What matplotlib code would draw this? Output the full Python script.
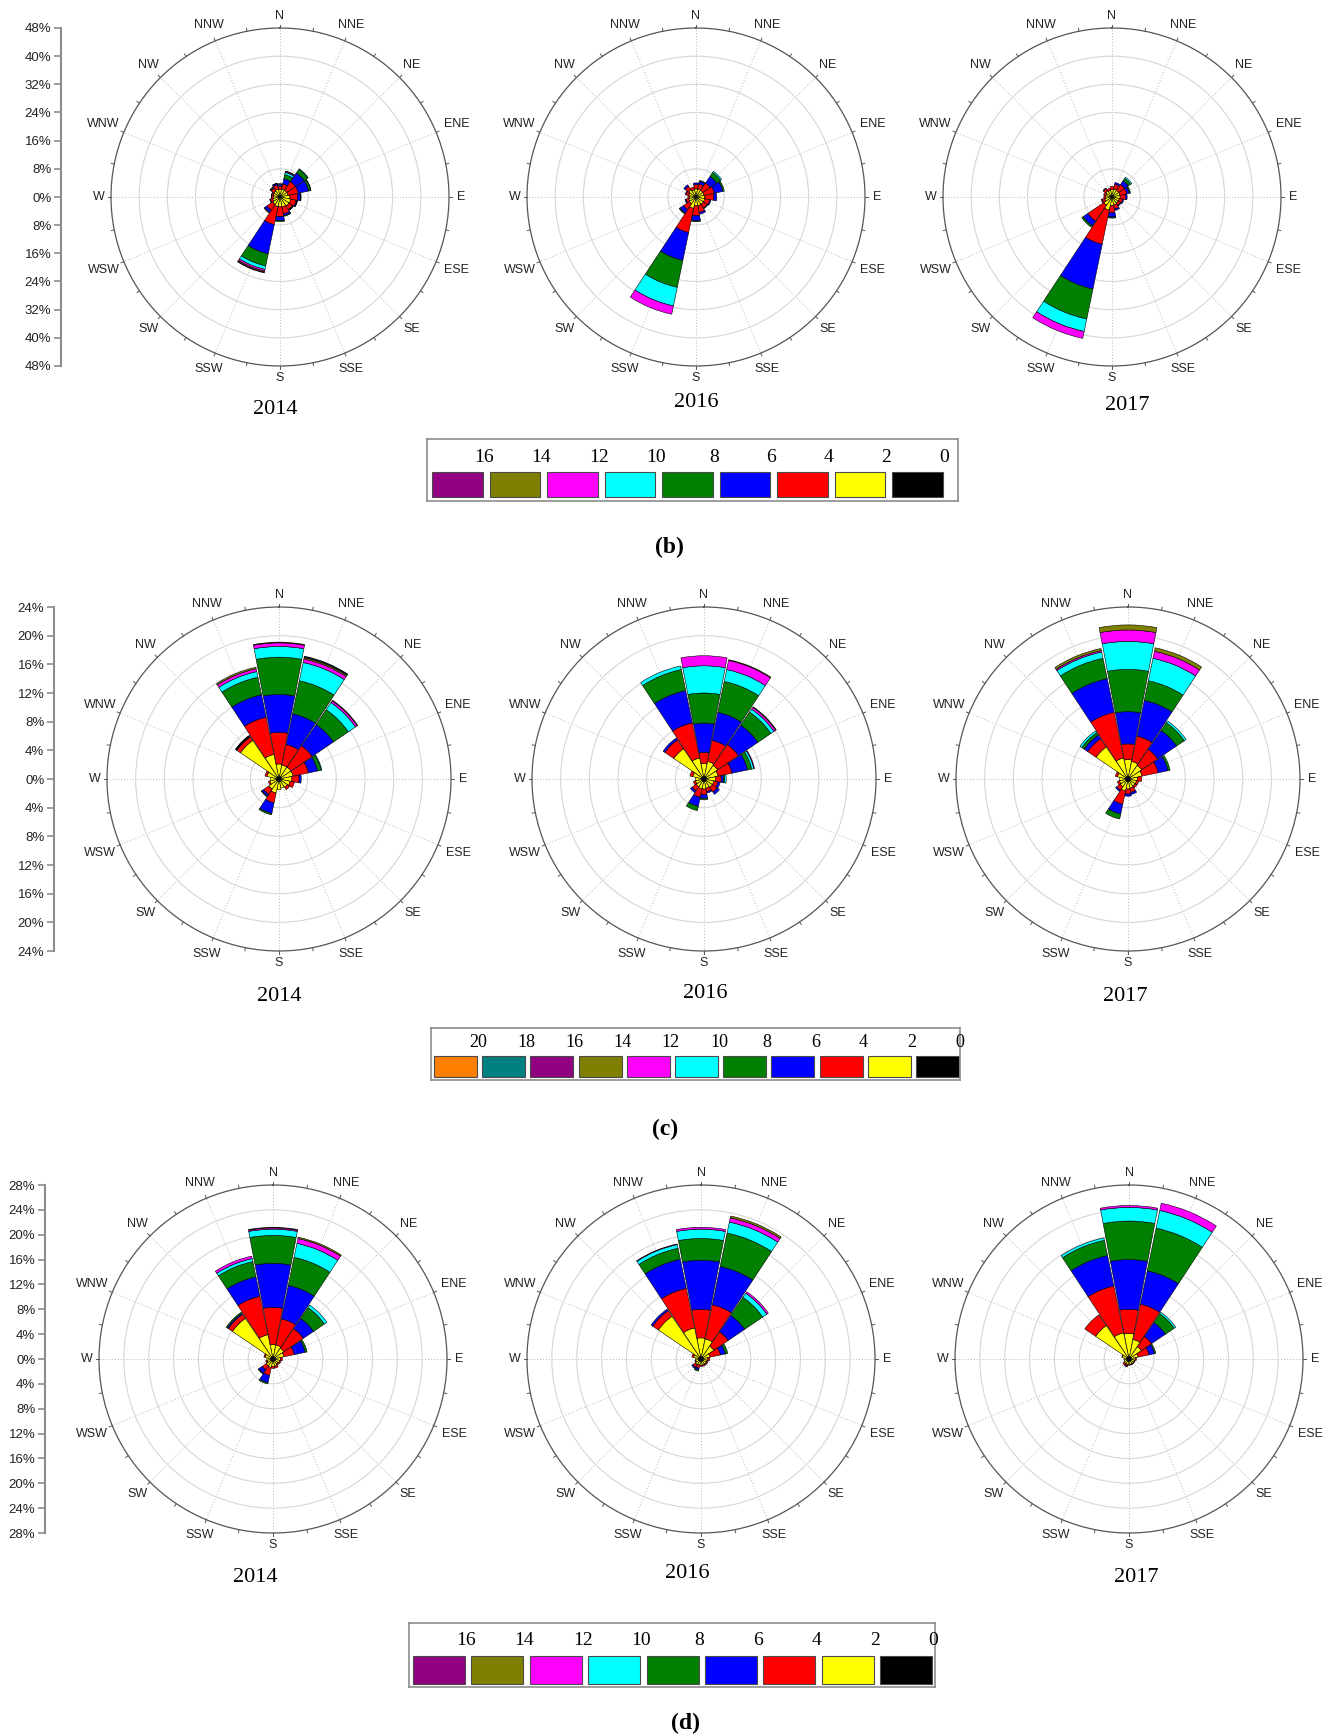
import numpy as np
import matplotlib
matplotlib.use('Agg')
import matplotlib.pyplot as plt
from matplotlib.patches import Rectangle

W, H = 1330, 1735

directions = ['N', 'NNE', 'NE', 'ENE', 'E', 'ESE', 'SE', 'SSE',
              'S', 'SSW', 'SW', 'WSW', 'W', 'WNW', 'NW', 'NNW']

# speed bins from the centre outwards
bin_colors = ['#000000', '#ffff00', '#ff0000', '#0000ff', '#008000', '#00ffff',
              '#ff00ff', '#808000', '#900080', '#008080', '#ff8000']

labels_bd = ['16', '14', '12', '10', '8', '6', '4', '2', '0']
labels_c = ['20', '18', '16', '14', '12', '10', '8', '6', '4', '2', '0']

# frequency (%) per direction, per speed bin (centre outwards)
b2014 = [[0.3, 1.8, 1.0, 0.5, 0.2], [0.3, 2.0, 1.5, 1.5, 1.2, 0.6, 0.3, 0.1],
         [0.3, 2.0, 3.0, 3.0, 1.2, 0.2], [0.3, 2.0, 3.0, 3.0, 0.6, 0.1],
         [0.3, 2.5, 2.2, 0.8, 0.2], [0.3, 2.8, 1.6, 0.3, 0.1],
         [0.3, 2.8, 1.2, 0.2, 0.1], [0.3, 2.6, 2.0, 0.5, 0.2],
         [0.3, 2.5, 2.8, 1.1, 0.3], [0.3, 2.5, 5.2, 8.5, 3.5, 1.0, 0.5, 0.3, 0.2],
         [0.3, 2.2, 2.0, 0.8, 0.2], [0.3, 1.8, 0.7, 0.2],
         [0.3, 1.5, 0.6, 0.1], [0.3, 1.6, 0.5, 0.1],
         [0.3, 1.8, 0.9, 0.3, 0.2], [0.3, 2.0, 1.2, 0.4, 0.1]]
b2016 = [[0.3, 2.0, 1.2, 0.5], [0.3, 2.0, 1.5, 0.8, 0.2],
         [0.3, 2.0, 2.5, 2.3, 1.3, 0.4], [0.3, 2.0, 3.0, 2.5, 0.4],
         [0.3, 2.2, 2.5, 0.9], [0.3, 2.2, 1.5, 0.3],
         [0.3, 2.2, 1.3, 0.2], [0.3, 2.2, 2.0, 0.5],
         [0.3, 2.2, 2.8, 1.5, 0.2], [0.3, 3.0, 7.0, 8.1, 7.8, 5.4, 2.4],
         [0.3, 2.0, 2.0, 1.2, 0.3], [0.3, 1.8, 0.8, 0.3],
         [0.3, 1.5, 0.5], [0.3, 1.8, 0.8, 0.2],
         [0.3, 2.2, 1.2, 0.5], [0.3, 1.8, 0.8]]
b2017 = [[0.3, 1.8, 0.9], [0.3, 2.0, 1.4, 0.5],
         [0.3, 2.0, 2.0, 1.3, 0.8, 0.4], [0.3, 2.0, 2.0, 0.8, 0.3],
         [0.3, 2.0, 1.5, 0.5], [0.3, 1.8, 1.0, 0.3],
         [0.3, 1.8, 0.8, 0.2], [0.3, 2.0, 1.2, 0.4],
         [0.3, 2.2, 2.0, 1.2, 0.3], [0.3, 3.5, 9.9, 13.0, 8.7, 3.6, 2.0],
         [0.3, 2.5, 5.5, 1.6, 0.5], [0.3, 1.8, 0.8, 0.2],
         [0.3, 1.5, 0.5], [0.3, 1.5, 0.6],
         [0.3, 1.8, 0.8, 0.2], [0.3, 1.6, 0.6]]

c2014 = [[0.4, 1.7, 4.4, 5.3, 5.2, 1.5, 0.5, 0.1], [0.4, 1.6, 2.9, 4.4, 4.7, 2.6, 0.5, 0.2, 0.1, 0.1],
         [0.4, 1.6, 3.6, 3.6, 2.5, 1.2, 0.3, 0.1], [0.4, 1.6, 2.2, 1.3, 0.5, 0.1],
         [0.4, 1.4, 1.0, 0.3], [0.4, 1.2, 0.6],
         [0.4, 1.0, 0.4], [0.4, 0.9],
         [0.4, 1.1], [0.4, 1.6, 1.4, 1.5, 0.2],
         [0.4, 1.3, 0.9, 0.3, 0.1], [0.4, 0.9, 0.2],
         [0.4, 0.8], [0.4, 1.3, 0.3],
         [0.4, 6.1, 0.6, 0.1, 0.05, 0.05, 0.05], [0.4, 3.1, 5.3, 3.2, 2.5, 0.8, 0.4, 0.2]]
c2016 = [[0.4, 1.8, 1.5, 4.1, 4.2, 3.8, 1.4], [0.4, 2.1, 3.0, 4.0, 4.4, 1.7, 1.3, 0.1],
         [0.4, 1.9, 3.5, 3.3, 2.2, 0.5, 0.3, 0.1], [0.4, 1.6, 2.0, 2.2, 0.6, 0.3, 0.1],
         [0.4, 1.2, 0.8, 0.3, 0.2, 0.2], [0.4, 1.0, 0.6, 0.3],
         [0.4, 1.0, 0.8, 0.4], [0.4, 0.9, 0.5, 0.2],
         [0.4, 1.0, 0.8, 0.5, 0.2], [0.4, 1.0, 1.2, 1.3, 0.6],
         [0.4, 0.9, 0.7, 0.3], [0.4, 0.8, 0.3],
         [0.4, 0.8], [0.4, 1.2, 0.4],
         [0.4, 4.7, 1.5, 0.3], [0.4, 2.6, 5.0, 4.6, 3.0, 0.5]]
c2017 = [[0.4, 2.3, 2.2, 4.5, 5.9, 3.9, 1.6, 0.7], [0.4, 2.1, 3.6, 5.1, 2.8, 3.2, 1.0, 0.5],
         [0.4, 1.9, 2.7, 3.2, 1.3, 0.3], [0.4, 1.6, 2.3, 1.4, 0.3],
         [0.4, 0.9, 0.6], [0.4, 0.8, 0.3],
         [0.4, 0.8, 0.3], [0.4, 0.9, 0.6, 0.3],
         [0.4, 1.0, 0.7, 0.3], [0.4, 1.3, 1.9, 1.4, 0.7],
         [0.4, 0.9, 0.6, 0.2], [0.4, 0.8, 0.3],
         [0.4, 0.8], [0.4, 1.1, 0.3],
         [0.4, 5.0, 1.4, 0.6, 0.4, 0.3], [0.4, 2.6, 6.5, 4.8, 2.9, 0.9, 0.2, 0.3]]

d2014 = [[0.4, 1.9, 6.0, 7.1, 4.5, 1.0, 0.2, 0.1], [0.4, 1.9, 4.3, 5.5, 4.6, 2.3, 0.8, 0.2],
         [0.4, 1.7, 3.8, 2.0, 2.1, 0.5], [0.4, 1.4, 1.7, 1.8, 0.3],
         [0.4, 0.8, 0.3], [0.4, 0.7, 0.2],
         [0.4, 0.6, 0.2], [0.4, 0.8, 0.3],
         [0.4, 0.8, 0.3], [0.4, 1.0, 1.3, 1.2, 0.2],
         [0.4, 0.9, 0.8, 0.7, 0.1], [0.4, 0.6, 0.2],
         [0.4, 0.6], [0.4, 0.9, 0.2],
         [0.4, 7.5, 0.8, 0.2, 0.2], [0.4, 3.6, 6.3, 3.2, 2.5, 0.5, 0.4]]
d2016 = [[0.4, 3.0, 4.6, 7.9, 3.5, 1.5, 0.3], [0.4, 2.9, 5.6, 6.3, 5.5, 1.8, 0.7, 0.3],
         [0.4, 2.1, 2.8, 3.2, 3.5, 0.8, 0.3], [0.4, 1.1, 1.7, 0.8, 0.4],
         [0.4, 0.7, 0.3], [0.4, 0.6, 0.2],
         [0.4, 0.6, 0.2], [0.4, 0.6, 0.2],
         [0.4, 0.6, 0.2], [0.4, 0.6, 0.5, 0.3, 0.2],
         [0.4, 0.7, 0.5, 0.2], [0.4, 0.5, 0.1],
         [0.4, 0.5], [0.4, 0.8, 0.3],
         [0.4, 7.9, 1.1, 0.3], [0.4, 4.7, 6.5, 4.8, 1.8, 0.6, 0.1]]
d2017 = [[0.4, 3.7, 3.9, 8.0, 6.2, 2.2, 0.3], [0.4, 2.8, 5.8, 5.5, 7.0, 2.9, 1.2],
         [0.4, 2.0, 2.0, 2.7, 1.7, 0.3], [0.4, 1.1, 1.8, 0.9, 0.2],
         [0.4, 0.6, 0.2], [0.4, 0.5, 0.1],
         [0.4, 0.5, 0.1], [0.4, 0.5, 0.1],
         [0.4, 0.5, 0.1], [0.4, 0.5, 0.3, 0.1],
         [0.4, 0.5, 0.3], [0.4, 0.4],
         [0.4, 0.4], [0.4, 0.7, 0.1],
         [0.4, 6.1, 2.1], [0.4, 3.9, 7.7, 5.0, 2.5, 0.4]]

fig = plt.figure(figsize=(W / 100, H / 100), dpi=100)
sans = 'Liberation Sans'
serif = 'Liberation Serif'


def fx(x):
    return x / W


def fy(y):
    return 1 - y / H


def rose(cx, cy, r, rmax, step, data, nbins):
    ax = fig.add_axes([fx(cx - r), fy(cy + r), 2 * r / W, 2 * r / H], projection='polar')
    ax.set_theta_zero_location('N')
    ax.set_theta_direction(-1)
    ax.set_ylim(0, rmax)
    ax.set_rgrids(np.arange(step, rmax, step), labels=[])
    ax.set_thetagrids(np.arange(0, 360, 22.5), labels=[])
    ax.yaxis.grid(True, color='#d6d6d6', lw=0.8, ls='-')
    ax.xaxis.grid(True, color='#b8b8b8', lw=0.7, ls=(0, (1, 2)))
    ax.tick_params(axis='x', length=0)
    ax.spines['polar'].set_color('#555555')
    ax.spines['polar'].set_linewidth(0.9)
    ax.set_axisbelow(True)

    vals = np.zeros((16, nbins))
    for i, row in enumerate(data):
        vals[i, :len(row)] = row
    bottoms = np.cumsum(vals, axis=1) - vals
    theta = np.deg2rad(np.arange(16) * 22.5)
    width = np.deg2rad(22.5) * 0.96
    for k in range(nbins):
        m = vals[:, k] > 0
        ax.bar(theta[m], vals[m, k], width=width, bottom=bottoms[m, k],
               color=bin_colors[k], edgecolor='black', linewidth=0.4, zorder=3)

    for a in np.deg2rad(np.arange(32) * 11.25):
        ax.plot([a, a], [rmax, rmax * 1.018], color='#555555', lw=0.7, clip_on=False)

    # label centre = circle + gap + half text extent along the radius
    for i, name in enumerate(directions):
        a = np.deg2rad(i * 22.5)
        off = 7 + 4.7 * len(name) * abs(np.sin(a)) + 5 * abs(np.cos(a))
        ax.text(a, rmax * (1 + off / r), name, ha='center', va='center', fontsize=9,
                family=sans, color='#222222', clip_on=False)
    return ax


def scale_axis(x, cy, r, rmax, step):
    ax = fig.add_axes([fx(x), fy(cy + r), 0.0005, 2 * r / H])
    ax.set_ylim(-rmax, rmax)
    ticks = np.arange(-rmax, rmax + 0.1, step)
    ax.set_yticks(ticks)
    ax.set_yticklabels([f'{abs(int(t))}%' for t in ticks], family=sans, fontsize=9.5)
    ax.set_xticks([])
    for s in ['top', 'right', 'bottom']:
        ax.spines[s].set_visible(False)
    ax.spines['left'].set_color('#8c8c8c')
    ax.spines['left'].set_linewidth(1.5)
    ax.tick_params(axis='y', color='#8c8c8c', width=1.2, length=5, pad=2, labelcolor='#222222')


def legend(x0, y0, x1, y1, first, pitch, rw, ry0, ry1, ly, labels, fs):
    ax = fig.add_axes([fx(x0), fy(y1), (x1 - x0) / W, (y1 - y0) / H])
    ax.set_xlim(x0, x1)
    ax.set_ylim(y1, y0)
    ax.set_xticks([])
    ax.set_yticks([])
    for s in ax.spines.values():
        s.set_color('#8c8c8c')
        s.set_linewidth(1.2)
    n = len(labels)
    cols = bin_colors[:n][::-1]
    for i, (lab, c) in enumerate(zip(labels, cols)):
        rx = first + i * pitch
        ax.add_patch(Rectangle((rx, ry0), rw, ry1 - ry0, facecolor=c,
                               edgecolor='#4a4a4a', lw=0.8))
        ax.text(rx + rw + 1, ly, lab, ha='center', va='center', family=serif, fontsize=fs)


def panel_tag(x, y, letter):
    fig.text(fx(x), fy(y), f'({letter})', ha='center', va='center', family=serif,
             fontsize=17, fontweight='bold')


# row (b)
scale_axis(61, 197, 169, 48, 8)
for cx, data in zip([280, 696, 1112], [b2014, b2016, b2017]):
    rose(cx, 197, 169, 48, 8, data, 9)
for x, y, t in [(275, 409, '2014'), (696, 402, '2016'), (1127, 405, '2017')]:
    fig.text(fx(x), fy(y), t, ha='center', va='center', family=serif, fontsize=16)
legend(427, 439, 958, 501, 432, 57.5, 50.7, 472, 497.5, 457, labels_bd, 14)
panel_tag(669, 547, 'b')

# row (c)
scale_axis(54, 779, 172, 24, 4)
for cx, data in zip([279, 704, 1128], [c2014, c2016, c2017]):
    rose(cx, 779, 172, 24, 4, data, 11)
for x, y, t in [(279, 996, '2014'), (705, 993, '2016'), (1125, 996, '2017')]:
    fig.text(fx(x), fy(y), t, ha='center', va='center', family=serif, fontsize=16)
legend(431, 1028, 960, 1080, 434, 48.2, 43, 1056, 1077, 1042, labels_c, 13)
panel_tag(665, 1129, 'c')

# row (d)
scale_axis(45, 1359, 174, 28, 4)
for cx, data in zip([273, 701, 1129], [d2014, d2016, d2017]):
    rose(cx, 1359, 174, 28, 4, data, 9)
for x, y, t in [(255, 1577, '2014'), (687, 1573, '2016'), (1136, 1577, '2017')]:
    fig.text(fx(x), fy(y), t, ha='center', va='center', family=serif, fontsize=16)
legend(409, 1623, 935, 1687, 413, 58.4, 52, 1656, 1684, 1640, labels_bd, 14)
panel_tag(685, 1723, 'd')

fig.savefig('out.png', dpi=100)
